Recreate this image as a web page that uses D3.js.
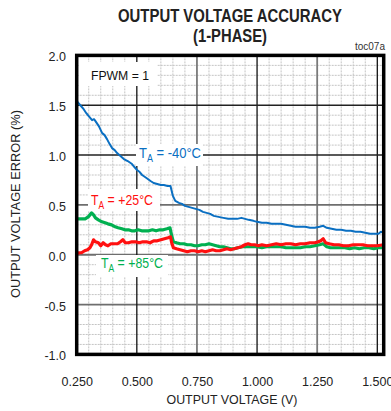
<!DOCTYPE html>
<html>
<head>
<meta charset="utf-8">
<script src="https://cdn.jsdelivr.net/npm/d3@7"></script>
<style>
  html, body { margin: 0; padding: 0; background: #fff; }
  svg { display: block; font-family: "Liberation Sans", Arial, sans-serif; }
</style>
</head>
<body>
<div id="chart"></div>
<script>
// data (output voltage in V, error in %)
const voltM40 = [0.250,0.254,0.265,0.279,0.290,0.300,0.314,0.322,0.328,0.342,0.356,0.366,0.376,0.387,0.397,0.408,0.418,0.432,0.446,0.462,0.480,0.490,0.501,0.512,0.522,0.540,0.557,0.570,0.585,0.600,0.612,0.628,0.640,0.645,0.650,0.660,0.675,0.688,0.700,0.715,0.730,0.745,0.760,0.775,0.790,0.805,0.820,0.840,0.860,0.880,0.900,0.917,0.935,0.950,0.965,0.985,1.000,1.020,1.040,1.060,1.080,1.100,1.120,1.140,1.160,1.180,1.200,1.220,1.240,1.260,1.275,1.290,1.310,1.330,1.350,1.370,1.390,1.410,1.430,1.450,1.470,1.490,1.505,1.515,1.526];
const errM40 = [1.55,1.53,1.50,1.46,1.42,1.39,1.35,1.36,1.34,1.29,1.22,1.20,1.16,1.11,1.07,1.05,1.02,0.99,0.96,0.94,0.91,0.88,0.85,0.83,0.80,0.77,0.74,0.72,0.71,0.70,0.70,0.69,0.69,0.64,0.59,0.54,0.52,0.51,0.49,0.48,0.47,0.46,0.45,0.43,0.42,0.41,0.39,0.38,0.37,0.36,0.36,0.36,0.37,0.36,0.35,0.34,0.33,0.32,0.32,0.31,0.31,0.31,0.30,0.29,0.28,0.28,0.28,0.27,0.27,0.28,0.29,0.27,0.26,0.25,0.25,0.24,0.24,0.23,0.23,0.22,0.21,0.21,0.21,0.23,0.22];

const voltP25 = [0.250,0.260,0.270,0.283,0.295,0.305,0.312,0.320,0.328,0.340,0.350,0.360,0.370,0.380,0.392,0.405,0.420,0.432,0.442,0.452,0.465,0.480,0.495,0.510,0.525,0.540,0.555,0.570,0.585,0.600,0.615,0.630,0.640,0.645,0.652,0.665,0.680,0.695,0.710,0.725,0.740,0.755,0.770,0.785,0.800,0.815,0.830,0.845,0.860,0.875,0.890,0.905,0.920,0.935,0.950,0.963,0.975,0.990,1.005,1.020,1.040,1.060,1.080,1.100,1.120,1.140,1.160,1.180,1.200,1.220,1.240,1.255,1.265,1.275,1.285,1.300,1.320,1.340,1.360,1.380,1.400,1.420,1.440,1.460,1.480,1.500,1.526];
const errP25 = [0.01,0.02,0.02,0.04,0.05,0.07,0.10,0.15,0.13,0.12,0.09,0.12,0.10,0.09,0.11,0.11,0.11,0.13,0.15,0.12,0.12,0.13,0.13,0.12,0.13,0.13,0.12,0.14,0.14,0.15,0.16,0.17,0.18,0.12,0.07,0.06,0.05,0.04,0.03,0.04,0.04,0.03,0.04,0.03,0.04,0.05,0.04,0.04,0.05,0.06,0.05,0.06,0.07,0.08,0.10,0.11,0.10,0.10,0.09,0.10,0.09,0.10,0.11,0.10,0.11,0.11,0.10,0.11,0.11,0.12,0.12,0.13,0.14,0.16,0.12,0.11,0.10,0.10,0.09,0.09,0.10,0.10,0.10,0.09,0.09,0.09,0.10];

const voltP85 = [0.250,0.260,0.272,0.285,0.298,0.305,0.312,0.320,0.328,0.340,0.355,0.368,0.380,0.395,0.410,0.422,0.438,0.450,0.465,0.478,0.492,0.505,0.520,0.535,0.550,0.565,0.580,0.595,0.610,0.625,0.638,0.645,0.652,0.665,0.680,0.695,0.710,0.725,0.740,0.755,0.770,0.785,0.800,0.815,0.830,0.845,0.860,0.875,0.890,0.905,0.920,0.940,0.960,0.980,1.000,1.020,1.040,1.060,1.080,1.100,1.120,1.140,1.160,1.180,1.200,1.220,1.240,1.260,1.275,1.290,1.305,1.325,1.345,1.365,1.385,1.405,1.425,1.445,1.465,1.485,1.505,1.526];
const errP85 = [0.36,0.36,0.36,0.36,0.38,0.40,0.42,0.40,0.37,0.35,0.33,0.32,0.31,0.30,0.28,0.27,0.26,0.25,0.25,0.24,0.24,0.25,0.24,0.24,0.24,0.25,0.24,0.25,0.25,0.26,0.27,0.19,0.13,0.12,0.11,0.11,0.10,0.10,0.09,0.09,0.10,0.10,0.11,0.10,0.09,0.08,0.08,0.07,0.06,0.06,0.07,0.08,0.08,0.08,0.08,0.07,0.08,0.08,0.08,0.08,0.07,0.07,0.07,0.07,0.08,0.08,0.09,0.10,0.11,0.08,0.07,0.07,0.07,0.07,0.06,0.07,0.06,0.07,0.07,0.06,0.07,0.07];

const xTicks = [0.25, 0.5, 0.75, 1.0, 1.25, 1.5];
const xTickLabels = ["0.250", "0.500", "0.750", "1.000", "1.250", "1.500"];
const yTicks = [2.0, 1.5, 1.0, 0.5, 0.0, -0.5, -1.0];
const yTickLabels = ["2.0", "1.5", "1.0", "0.5", "0.0", "-0.5", "-1.0"];

const W = 391, H = 411;
const svg = d3.select("#chart").append("svg").attr("width", W).attr("height", H);

const x = d3.scaleLinear().domain([0.25, 1.5266]).range([76.7, 383.7]);
const y = d3.scaleLinear().domain([-1, 2]).range([354.4, 55.4]);

// minor grid
const minorX = d3.range(0.30, 1.52, 0.05).filter((v) => Math.abs(v / 0.25 - Math.round(v / 0.25)) > 1e-6);
const minorY = d3.range(-0.9, 2.0, 0.1).filter((v) => Math.abs(v / 0.5 - Math.round(v / 0.5)) > 1e-6);
const grid = svg.append("g");
grid.selectAll("line.mx").data(minorX).join("line")
  .attr("x1", (d) => x(d)).attr("x2", (d) => x(d)).attr("y1", y(2)).attr("y2", y(-1))
  .attr("stroke", "#c4c4c4").attr("stroke-dasharray", "2,1");
grid.selectAll("line.my").data(minorY).join("line")
  .attr("y1", (d) => y(d)).attr("y2", (d) => y(d)).attr("x1", x(0.25)).attr("x2", x(1.5266))
  .attr("stroke", "#c4c4c4").attr("stroke-dasharray", "2,1");

// major grid: black at 0.5 / 1.0 / 1.5, grey in between
const darkX = [0.5, 1.0, 1.5], greyX = [0.75, 1.25];
const darkY = [1.5, 1.0], greyY = [0.5, 0.0, -0.5];
grid.selectAll("line.gx").data(greyX).join("line")
  .attr("x1", (d) => x(d)).attr("x2", (d) => x(d)).attr("y1", y(2)).attr("y2", y(-1))
  .attr("stroke", "#7a7a7a").attr("stroke-width", 1.8);
grid.selectAll("line.gy").data(greyY).join("line")
  .attr("y1", (d) => y(d)).attr("y2", (d) => y(d)).attr("x1", x(0.25)).attr("x2", x(1.5266))
  .attr("stroke", "#6e6e6e").attr("stroke-width", 1.8);
grid.selectAll("line.dx").data(darkX).join("line")
  .attr("x1", (d) => x(d)).attr("x2", (d) => x(d)).attr("y1", y(2)).attr("y2", y(-1))
  .attr("stroke", "#111").attr("stroke-width", 1.3);
grid.selectAll("line.dy").data(darkY).join("line")
  .attr("y1", (d) => y(d)).attr("y2", (d) => y(d)).attr("x1", x(0.25)).attr("x2", x(1.5266))
  .attr("stroke", "#222").attr("stroke-width", 1.5);

// white boxes behind the annotations
const boxes = [
  { x0: 79, y0: 62, w: 78, h: 24 },
  { x0: 136, y0: 144, w: 67, h: 22 },
  { x0: 88, y0: 189, w: 72, h: 22 },
  { x0: 96, y0: 255, w: 72, h: 22 },
];
svg.append("g").selectAll("rect").data(boxes).join("rect")
  .attr("x", (d) => d.x0).attr("y", (d) => d.y0).attr("width", (d) => d.w).attr("height", (d) => d.h)
  .attr("fill", "#fff");

// series
const series = [
  { v: voltP85, e: errP85, color: "#00b050", width: 3.2 },
  { v: voltP25, e: errP25, color: "#ff1010", width: 3.2 },
  { v: voltM40, e: errM40, color: "#0a6fc2", width: 2 },
];
const line = d3.line().x((d) => x(d[0])).y((d) => y(d[1]));
svg.append("g").selectAll("path").data(series).join("path")
  .attr("fill", "none")
  .attr("stroke", (d) => d.color)
  .attr("stroke-width", (d) => d.width)
  .attr("stroke-linejoin", "round")
  .attr("d", (d) => line(d.v.map((v, i) => [v, d.e[i]])));

// frame
svg.append("rect")
  .attr("x", x(0.25)).attr("y", y(2))
  .attr("width", x(1.5266) - x(0.25)).attr("height", y(-1) - y(2))
  .attr("fill", "none").attr("stroke", "#000").attr("stroke-width", 3.5);

// axes
const xAxis = d3.axisBottom(x).tickValues(xTicks).tickSize(0).tickPadding(0)
  .tickFormat((d, i) => xTickLabels[i]);
svg.append("g").attr("transform", "translate(0,377)").call(xAxis)
  .call((g) => g.select(".domain").remove())
  .selectAll("text").attr("font-size", 12.5).attr("fill", "#222").attr("font-family", "Liberation Sans, Arial, sans-serif");

const yAxis = d3.axisLeft(y).tickValues(yTicks).tickSize(0).tickPadding(0)
  .tickFormat((d, i) => yTickLabels[i]);
svg.append("g").attr("transform", "translate(66,1.5)").call(yAxis)
  .call((g) => g.select(".domain").remove())
  .selectAll("text").attr("font-size", 12.5).attr("fill", "#222").attr("font-family", "Liberation Sans, Arial, sans-serif");

// titles
svg.append("text").attr("x", 230).attr("y", 22).attr("text-anchor", "middle")
  .attr("font-size", 17.5).attr("font-weight", "bold").attr("fill", "#222")
  .attr("textLength", 224).attr("lengthAdjust", "spacingAndGlyphs")
  .text("OUTPUT VOLTAGE ACCURACY");
svg.append("text").attr("x", 230).attr("y", 42).attr("text-anchor", "middle")
  .attr("font-size", 17.5).attr("font-weight", "bold").attr("fill", "#222")
  .attr("textLength", 74).attr("lengthAdjust", "spacingAndGlyphs")
  .text("(1-PHASE)");
svg.append("text").attr("x", 385).attr("y", 50).attr("text-anchor", "end")
  .attr("font-size", 10).attr("fill", "#333").text("toc07a");

svg.append("text").attr("x", 232).attr("y", 404).attr("text-anchor", "middle")
  .attr("font-size", 13).attr("fill", "#222")
  .attr("textLength", 131).attr("lengthAdjust", "spacingAndGlyphs")
  .text("OUTPUT VOLTAGE (V)");
svg.append("text").attr("transform", "translate(20,204) rotate(-90)").attr("text-anchor", "middle")
  .attr("font-size", 13).attr("fill", "#222")
  .attr("textLength", 188).attr("lengthAdjust", "spacingAndGlyphs")
  .text("OUTPUT VOLTAGE ERROR (%)");

svg.append("text").attr("x", 91).attr("y", 80).attr("font-size", 13).attr("fill", "#111")
  .attr("textLength", 58).attr("lengthAdjust", "spacingAndGlyphs").text("FPWM = 1");

// temperature labels
const tempLabels = [
  { x0: 139, y0: 158, t: " = -40°C", color: "#0a6fc2" },
  { x0: 91, y0: 204.5, t: " = +25°C", color: "#ff1010" },
  { x0: 101, y0: 268, t: " = +85°C", color: "#00b050" },
];
const tl = svg.append("g").selectAll("text").data(tempLabels).join("text")
  .attr("x", (d) => d.x0).attr("y", (d) => d.y0)
  .attr("font-size", 14.5).attr("fill", (d) => d.color)
  .attr("textLength", 62).attr("lengthAdjust", "spacingAndGlyphs");
tl.append("tspan").text("T");
tl.append("tspan").attr("font-size", 10).attr("dy", 4).text("A");
tl.append("tspan").attr("dy", -4).text((d) => d.t);
</script>
</body>
</html>
